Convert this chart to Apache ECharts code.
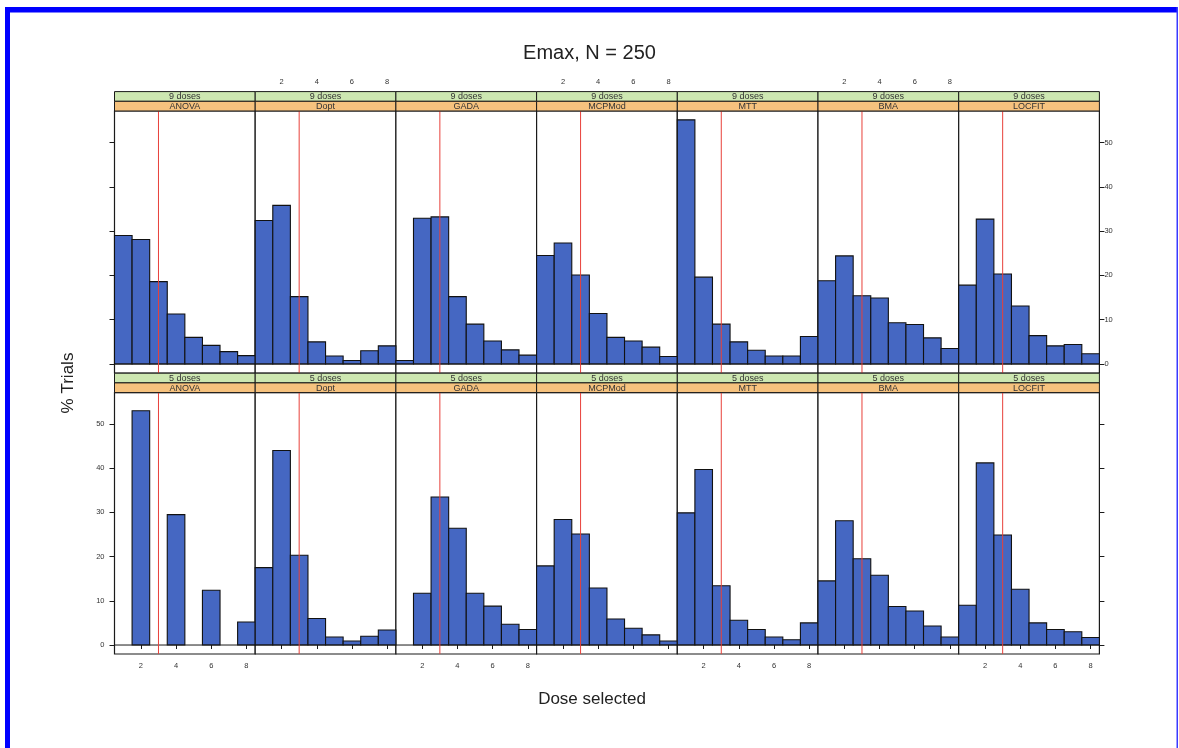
<!DOCTYPE html>
<html>
<head>
<meta charset="utf-8">
<script src="https://cdn.jsdelivr.net/npm/echarts@6/dist/echarts.min.js"></script>
<style>
html,body{margin:0;padding:0;background:#fff;}
#chart{width:1179px;height:748px;}
</style>
</head>
<body>
<div id="chart"></div>
<script>
// ---- data ----
const doses = [1, 2, 3, 4, 5, 6, 7, 8];
const methods = ['ANOVA', 'Dopt', 'GADA', 'MCPMod', 'MTT', 'BMA', 'LOCFIT'];
const rowLabels = ['9 doses', '5 doses'];
const yTicks = [0, 10, 20, 30, 40, 50];
const xTicks = [2, 4, 6, 8];
const trueDose = 3;

// % trials selecting each dose, 9-dose designs
const anova9  = [29.0, 28.1, 18.6, 11.3, 6.0, 4.2, 2.8, 1.9];
const dopt9   = [32.4, 35.8, 15.2, 5.0, 1.8, 0.8, 3.0, 4.1];
const gada9   = [0.8, 32.9, 33.2, 15.2, 9.0, 5.2, 3.2, 2.0];
const mcpmod9 = [24.5, 27.3, 20.1, 11.4, 6.0, 5.2, 3.8, 1.7];
const mtt9    = [55.1, 19.6, 9.0, 5.0, 3.1, 1.8, 1.8, 6.2];
const bma9    = [18.8, 24.4, 15.4, 14.9, 9.3, 8.9, 5.9, 3.5];
const locfit9 = [17.8, 32.7, 20.3, 13.1, 6.4, 4.1, 4.4, 2.3];
// % trials selecting each dose, 5-dose designs
const anova5  = [null, 53.0, null, 29.5, null, 12.4, null, 5.2];
const dopt5   = [17.5, 44.0, 20.3, 6.0, 1.8, 0.9, 2.0, 3.4];
const gada5   = [null, 11.7, 33.5, 26.4, 11.7, 8.8, 4.7, 3.5];
const mcpmod5 = [17.9, 28.4, 25.1, 12.9, 5.9, 3.8, 2.3, 0.9];
const mtt5    = [29.9, 39.7, 13.4, 5.6, 3.5, 1.8, 1.2, 5.0];
const bma5    = [14.5, 28.1, 19.5, 15.8, 8.7, 7.7, 4.3, 1.8];
const locfit5 = [9.0, 41.2, 24.9, 12.6, 5.0, 3.5, 3.0, 1.7];

const rows = [
  [anova9, dopt9, gada9, mcpmod9, mtt9, bma9, locfit9],
  [anova5, dopt5, gada5, mcpmod5, mtt5, bma5, locfit5]
];

// ---- layout ----
const FONT = 'Liberation Sans, Arial, Helvetica, sans-serif';
const L = 114.5, W = 140.7;
const rowTop = [111, 392.6];
const rowH = [262, 261.4];
const stripH = 9.7;
const yMin = -2.03, yMax = 57.1;
const xMin = 0.5, xMax = 8.5;
const BAR = '#4567c2';
const GREEN = '#cde7b1';
const ORANGE = '#f6c27e';
const INK = '#1a1a1a';

const grids = [], xAxes = [], yAxes = [], series = [], graphics = [];

for (let r = 0; r < 2; r++) {
  for (let c = 0; c < 7; c++) {
    const idx = r * 7 + c;
    const left = L + c * W;
    grids.push({
      left: left, top: rowTop[r], width: W, height: rowH[r],
      show: true, borderColor: INK, borderWidth: 1.2, backgroundColor: '#fff'
    });
    const isTop = r === 0;
    const showXLabel = isTop ? (c % 2 === 1) : (c % 2 === 0);
    xAxes.push({
      type: 'value', gridIndex: idx, min: xMin, max: xMax,
      position: isTop ? 'top' : 'bottom',
      offset: isTop ? stripH * 2 : 0,
      axisLine: { show: false },
      splitLine: { show: false },
      axisTick: { show: true, customValues: xTicks, length: 4, inside: false, lineStyle: { color: INK, width: 1 } },
      axisLabel: { show: showXLabel, customValues: xTicks, fontSize: 7.5, color: '#333', fontFamily: FONT, margin: isTop ? 6 : 8 }
    });
    const yShow = c === 0 || c === 6;
    const yLabel = (c === 0 && r === 1) || (c === 6 && r === 0);
    yAxes.push({
      type: 'value', gridIndex: idx, min: yMin, max: yMax,
      position: c === 6 ? 'right' : 'left',
      axisLine: { show: false },
      splitLine: { show: false },
      axisTick: { show: yShow, customValues: yTicks, length: 5, lineStyle: { color: INK, width: 1 } },
      axisLabel: { show: yLabel, customValues: yTicks, fontSize: 7.5, color: '#333', fontFamily: FONT, margin: c === 6 ? 5 : 10 }
    });
    const vals = rows[r][c];
    const data = [];
    doses.forEach((d, i) => { if (vals[i] != null) data.push([d, vals[i]]); });
    series.push({
      type: 'custom', xAxisIndex: idx, yAxisIndex: idx, z: 2,
      data: data,
      renderItem: function (params, api) {
        const d = api.value(0), v = api.value(1);
        const p0 = api.coord([d - 0.5, 0]);
        const p1 = api.coord([d + 0.5, v]);
        return {
          type: 'rect',
          shape: { x: p0[0], y: p1[1], width: p1[0] - p0[0], height: p0[1] - p1[1] },
          style: { fill: BAR, stroke: '#111', lineWidth: 1.1 }
        };
      },
      silent: true
    });
    // zero reference line
    series.push({
      type: 'line', xAxisIndex: idx, yAxisIndex: idx, z: 3,
      data: [[xMin, 0], [xMax, 0]], symbol: 'none', silent: true,
      lineStyle: { color: INK, width: 1 }
    });
    // true dose line
    series.push({
      type: 'line', xAxisIndex: idx, yAxisIndex: idx, z: 4,
      data: [[trueDose, yMin], [trueDose, yMax]], symbol: 'none', silent: true,
      lineStyle: { color: '#e8403a', width: 1 }
    });
    // strips
    const sTop = rowTop[r] - stripH * 2;
    graphics.push({
      type: 'rect', shape: { x: left, y: sTop, width: W, height: stripH },
      style: { fill: GREEN, stroke: INK, lineWidth: 1 }, z: 10
    });
    graphics.push({
      type: 'rect', shape: { x: left, y: sTop + stripH, width: W, height: stripH },
      style: { fill: ORANGE, stroke: INK, lineWidth: 1 }, z: 10
    });
    graphics.push({
      type: 'text', x: left + W / 2, y: sTop + stripH / 2 + 0.5, z: 11,
      style: { text: rowLabels[r], fill: '#333', font: '9px ' + FONT, textAlign: 'center', textVerticalAlign: 'middle' }
    });
    graphics.push({
      type: 'text', x: left + W / 2, y: sTop + stripH * 1.5 + 0.5, z: 11,
      style: { text: methods[c], fill: '#333', font: '9px ' + FONT, textAlign: 'center', textVerticalAlign: 'middle' }
    });
  }
}

// frame and axis titles
graphics.push({ type: 'rect', shape: { x: 5, y: 7, width: 5, height: 741 }, style: { fill: '#0000ff' }, z: 20 });
graphics.push({ type: 'rect', shape: { x: 5, y: 7, width: 1173, height: 5.5 }, style: { fill: '#0000ff' }, z: 20 });
graphics.push({ type: 'rect', shape: { x: 1176.5, y: 7, width: 1.5, height: 741 }, style: { fill: '#3a3aff' }, z: 20 });
graphics.push({
  type: 'text', x: 592, y: 699, z: 11,
  style: { text: 'Dose selected', fill: '#222', font: '17px ' + FONT, textAlign: 'center', textVerticalAlign: 'middle' }
});
graphics.push({
  type: 'text', x: 68, y: 383, rotation: Math.PI / 2, z: 11,
  style: { text: '% Trials', fill: '#222', font: '17px ' + FONT, textAlign: 'center', textVerticalAlign: 'middle' }
});

const chart = echarts.init(document.getElementById('chart'), null, { renderer: 'canvas' });
chart.setOption({
  backgroundColor: '#fff',
  animation: false,
  title: {
    text: 'Emax, N = 250', left: 'center', top: 38,
    textStyle: { fontSize: 20, fontWeight: 'normal', color: '#222', fontFamily: FONT }
  },
  grid: grids,
  xAxis: xAxes,
  yAxis: yAxes,
  series: series,
  graphic: { elements: graphics }
});
</script>
</body>
</html>
